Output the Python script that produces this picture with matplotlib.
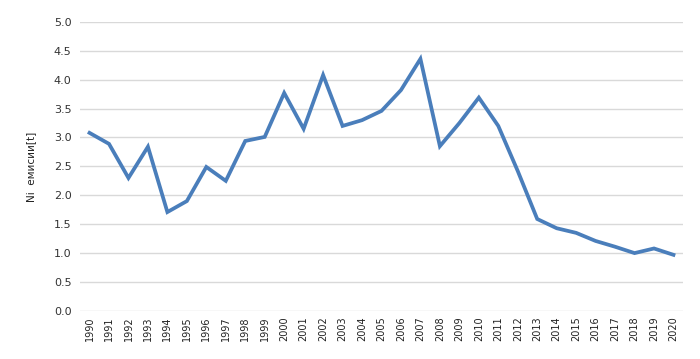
import matplotlib
matplotlib.use("Agg")
import matplotlib.pyplot as plt

years = list(range(1990, 2021))
values = [3.08, 2.89, 2.30, 2.84, 1.71, 1.90, 2.49, 2.25, 2.94, 3.01,
          3.77, 3.15, 4.08, 3.20, 3.30, 3.46, 3.82, 4.36, 2.85, 3.25,
          3.69, 3.20, 2.42, 1.59, 1.43, 1.35, 1.21, 1.11, 1.00, 1.08, 0.97]
yticks = [0.0, 0.5, 1.0, 1.5, 2.0, 2.5, 3.0, 3.5, 4.0, 4.5, 5.0]
ylabel = "Ni  емисии[t]"

fig = plt.figure(figsize=(7, 3.59), dpi=100)
ax = fig.add_axes([0.114, 0.134, 0.862, 0.805])
ax.plot(years, values, color="#4A7EBB", linewidth=2.7, solid_joinstyle="miter")
ax.set_xlim(1989.5, 2020.5)
ax.set_ylim(0, 5.0)
ax.set_yticks(yticks)
ax.set_yticklabels([f"{v:.1f}" for v in yticks], fontsize=8, color="#333333")
ax.set_xticks(years)
ax.set_xticklabels([str(y) for y in years], rotation=90, fontsize=7, color="#222222")
ax.grid(axis="y", color="#d9d9d9", linewidth=1.0)
ax.set_axisbelow(True)
for s in ax.spines.values():
    s.set_visible(False)
ax.tick_params(length=0, pad=6)
ax.tick_params(axis="x", pad=4)
ax.set_ylabel(ylabel, fontsize=7.5, color="#222222", labelpad=13)
fig.savefig("out.png", dpi=100)
